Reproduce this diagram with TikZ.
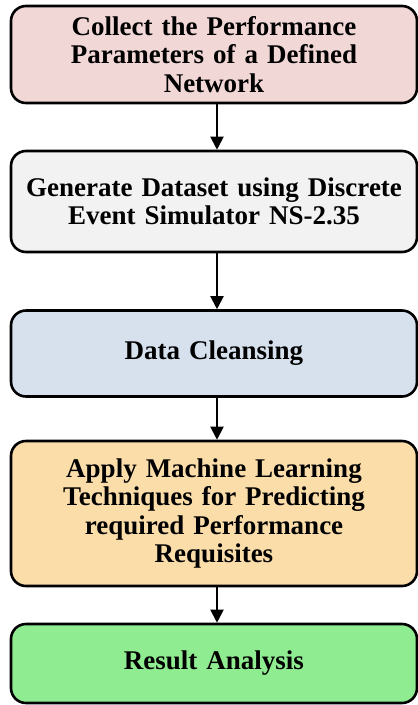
\documentclass[tikz,border=0pt]{standalone}
\usepackage{fontspec}
\setmainfont{Liberation Serif}
\usetikzlibrary{arrows.meta}
\definecolor{boxpink}{RGB}{242,215,215}
\definecolor{boxgray}{RGB}{242,242,242}
\definecolor{boxblue}{RGB}{215,225,238}
\definecolor{boxorange}{RGB}{251,221,170}
\definecolor{boxgreen}{RGB}{144,236,144}
\begin{document}
\begin{tikzpicture}[x=1pt,y=1pt,
  stage/.style={draw=black, line width=2.6pt, rounded corners=15pt,
    minimum width=406pt, text width=400pt, align=center, inner sep=0pt,
    font=\fontsize{27}{28.5}\selectfont\bfseries},
  flow/.style={line width=2pt, -{Triangle[length=13pt,width=13pt]}}]
\useasboundingbox (0,0) rectangle (418,-705);
\node[stage, fill=boxpink,   minimum height=97pt]  (collect)  at (214,-54.5)
  {Collect the Performance\\Parameters of a Defined\\Network};
\node[stage, fill=boxgray,   minimum height=101pt] (generate) at (214,-201.5)
  {Generate Dataset using Discrete\\Event Simulator NS-2.35};
\node[stage, fill=boxblue,   minimum height=86pt]  (cleanse)  at (214,-353.5)
  {Data Cleansing};
\node[stage, fill=boxorange, minimum height=145pt] (apply)    at (214,-513.5)
  {Apply Machine Learning\\Techniques for Predicting\\required Performance\\Requisites};
\node[stage, fill=boxgreen,  minimum height=79pt]  (result)   at (214,-663.5)
  {Result Analysis};
\draw[flow] ([xshift=3pt]collect.south)  -- ([xshift=3pt]generate.north);
\draw[flow] ([xshift=3pt]generate.south) -- ([xshift=3pt]cleanse.north);
\draw[flow] ([xshift=3pt]cleanse.south)  -- ([xshift=3pt]apply.north);
\draw[flow] ([xshift=3pt]apply.south)    -- ([xshift=3pt]result.north);
\end{tikzpicture}
\end{document}
